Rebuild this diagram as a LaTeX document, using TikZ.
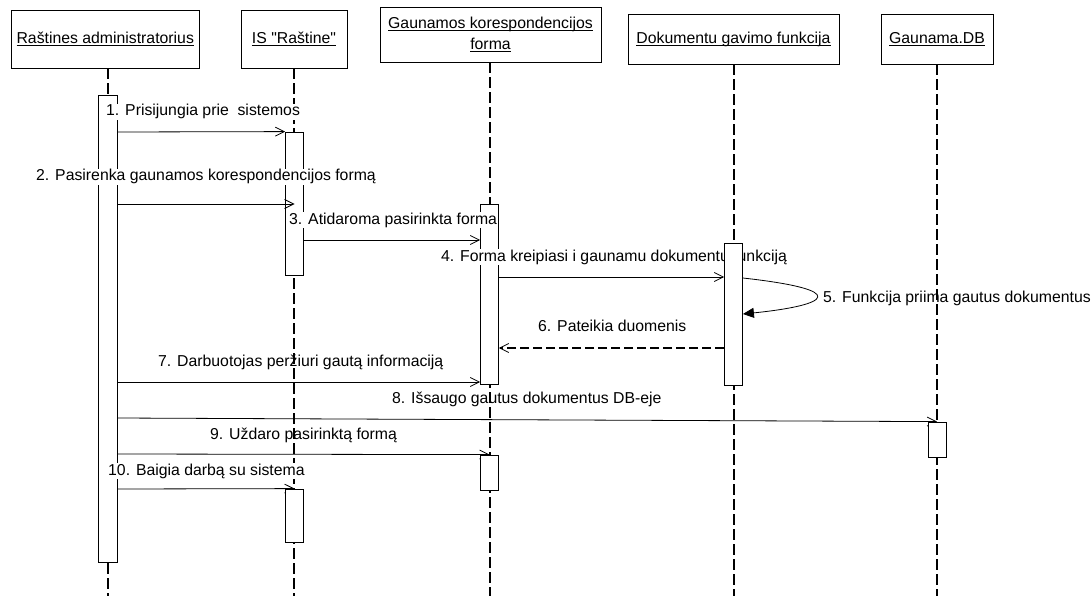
\documentclass[tikz,border=0pt]{standalone}
\usepackage{fontspec}
\setmainfont{Liberation Sans}[Ligatures=TeXOff]
\usetikzlibrary{arrows.meta}
\pgfdeclarelayer{ground}
\pgfdeclarelayer{over}
\pgfsetlayers{ground,main,over}
% underlined object names in the header boxes
\newsavebox\hulbox
\newcommand\hul[1]{\sbox\hulbox{#1}\rlap{\rule[-3pt]{\wd\hulbox}{0.9pt}}\usebox\hulbox}
\newcommand\dfont{\fontsize{15.8}{21}\selectfont}

\begin{document}
\begin{tikzpicture}[x=1pt,y=-1pt,
  hdr/.style={draw, line width=0.8pt, align=center, font=\dfont, inner sep=2pt},
  life/.style={line width=1.8pt, dash pattern=on 11pt off 4pt},
  act/.style={draw, fill=white, line width=0.8pt, minimum width=18pt, inner sep=0pt},
  msg/.style={line width=0.8pt, -{Straight Barb[length=9pt,width=9pt]}},
  ret/.style={line width=1.6pt, dash pattern=on 9pt off 4pt,
    -{Straight Barb[length=9pt,width=9pt,line width=0.8pt]}},
  selfmsg/.style={line width=0.8pt, -{Triangle[length=11pt,width=10pt]}},
  lbl/.style={anchor=base west, font=\dfont, inner sep=1pt},
  lblbg/.style={lbl, fill=white}]

\path[use as bounding box] (0,0) rectangle (1091,596);

% object headers
\node[hdr, minimum width=188.5pt, minimum height=58pt] (adm) at (105.25,39) {\hul{Raštines administratorius}};
\node[hdr, minimum width=106pt, minimum height=58pt] (is) at (294,39) {\hul{IS "Raštine"}};
\node[hdr, minimum width=221pt, minimum height=55pt] (frm) at (490.5,34.5) {\hul{Gaunamos korespondencijos}\\\hul{forma}};
\node[hdr, minimum width=211pt, minimum height=50pt] (fun) at (733.5,39) {\hul{Dokumentu gavimo funkcija}};
\node[hdr, minimum width=112pt, minimum height=50pt] (gdb) at (937,39) {\hul{Gaunama.DB}};

% lifeline ends
\coordinate (admB) at (108,596);
\coordinate (isB) at (294,596);
\coordinate (frmB) at (490,596);
\coordinate (funB) at (734,596);
\coordinate (gdbB) at (937,596);

% message levels
\coordinate (r1) at (0,132);
\coordinate (r2) at (0,204);
\coordinate (r3) at (0,240);
\coordinate (r4) at (0,277);
\coordinate (r5) at (0,278);
\coordinate (r5b) at (0,314);
\coordinate (r6) at (0,348);
\coordinate (r7) at (0,382);
\coordinate (r8) at (0,418);
\coordinate (r9) at (0,454);
\coordinate (r10) at (0,489);

% activation bars
\node[act, minimum width=19pt, minimum height=467pt] (a0) at (107.5,328.5) {};
\node[act, minimum height=143pt] (is1) at (294.5,203.5) {};
\node[act, minimum height=180pt] (f1) at (489.5,294) {};
\node[act, minimum height=35pt] (db) at (937,439.5) {};
\node[act, minimum height=35pt] (f2) at (489.5,472.5) {};
\node[act, minimum height=53pt] (is2) at (294.5,515.5) {};

\begin{pgfonlayer}{over}
  \draw[msg] (a0.east |- r2) -- (is1.center |- r2);
  \node[lblbg] (l1) at (105,116) {1. Prisijungia prie\ \ sistemos};
  \node[lblbg] (l2) at (35,181) {2. Pasirenka gaunamos korespondencijos formą};
  \node[lblbg] (l3) at (288,224) {3. Atidaroma pasirinkta forma};
  \node[lblbg] (l4) at (440,261) {4. Forma kreipiasi i gaunamu dokumentu funkciją};
  \node[lbl] (l5) at (822,302) {5. Funkcija priima gautus dokumentus};
  \node[lbl] (l6) at (537,331) {6. Pateikia duomenis};
  \node[lbl] (l7) at (157,366) {7. Darbuotojas peržiuri gautą informaciją};
  \node[lbl] (l8) at (391,403) {8. Išsaugo gautus dokumentus DB-eje};
  \node[lbl] (l9) at (209,439) {9. Uždaro pasirinktą formą};
  \node[lblbg] (l10) at (107,475) {10. Baigia darbą su sistema};
  \node[act, minimum height=142pt] (df) at (733.5,314) {};
\end{pgfonlayer}

\begin{pgfonlayer}{ground}
  \draw[life] (admB |- adm.south) -- (admB);
  \draw[life] (isB |- is.south) -- (isB);
  \draw[life] (frmB |- frm.south) -- (frmB);
  \draw[life] (funB |- fun.south) -- (funB);
  \draw[life] (gdbB |- gdb.south) -- (gdbB);

  \draw[msg] (a0.east |- r1) -- (is1.north west);
  \draw[msg] (is1.east |- r3) -- (f1.west |- r3);
  \draw[msg] (f1.east |- r4) -- (df.west |- r4);
  \draw[selfmsg] (df.east |- r5) .. controls +(108,12) and +(88,-9) .. (df.east |- r5b);
  \draw[ret] (df.west |- r6) -- (f1.east |- r6);
  \draw[msg] (a0.east |- r7) -- (f1.west |- r7);
  \draw[msg] (a0.east |- r8) -- (db.north);
  \draw[msg] (a0.east |- r9) -- (f2.north);
  \draw[msg] (a0.east |- r10) -- (is2.north);
\end{pgfonlayer}
\end{tikzpicture}
\end{document}
